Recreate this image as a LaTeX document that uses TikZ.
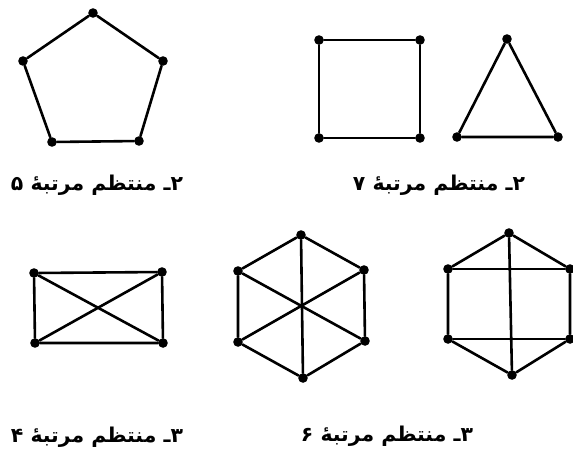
\documentclass[tikz,border=0pt]{standalone}
\usepackage{fontspec}
\newfontfamily\arabicfont[Script=Arabic]{DejaVu Sans}
\TeXXeTstate=1
\usetikzlibrary{positioning}

\begin{document}
\begin{tikzpicture}[
    x=0.5pt, y=-0.5pt,
    vtx/.style={circle, fill=black, inner sep=0pt, minimum size=4.8pt},
    edge/.style={line width=1.3pt, line cap=round},
    caption/.style={font=\arabicfont\bfseries\fontsize{10.2}{12}\selectfont, inner sep=0pt},
]
\useasboundingbox (0,0) rectangle (573,462);

% === 2-regular, order 5 (pentagon) ===
\node[vtx] (p1) at (93,13) {};
\node[vtx] (p2) at (163,61) {};
\node[vtx] (p3) at (139,141) {};
\node[vtx] (p4) at (52,142) {};
\node[vtx] (p5) at (23,61) {};
\draw[edge] (p1) -- (p2) -- (p3) -- (p4) -- (p5) -- (p1);

\node[caption] (cap5) at (97,185) {\beginR ۲ـ منتظم مرتبهٔ ۵\endR};

% === 2-regular, order 7 (square + triangle) ===
\node[vtx] (s1) at (319,40) {};
\node[vtx] (s2) at (420,40) {};
\node[vtx] (s3) at (420,138) {};
\node[vtx] (s4) at (319,138) {};
\draw[edge] (s1) -- (s2) -- (s3) -- (s4) -- (s1);

\node[vtx] (t1) at (507,39) {};
\node[vtx] (t2) at (558,137) {};
\node[vtx] (t3) at (457,137) {};
\draw[edge] (t1) -- (t2) -- (t3) -- (t1);

\node[caption] (cap7) at (439,185) {\beginR ۲ـ منتظم مرتبهٔ ۷\endR};

% === 3-regular, order 4 (rectangle with diagonals) ===
\node[vtx] (r1) at (34,273) {};
\node[vtx] (r2) at (162,272) {};
\node[vtx] (r3) at (163,343) {};
\node[vtx] (r4) at (35,343) {};
\draw[edge] (r1) -- (r2) -- (r3) -- (r4) -- (r1);
\draw[edge] (r1) -- (r3);
\draw[edge] (r2) -- (r4);

\node[caption] (cap4) at (97,437) {\beginR ۳ـ منتظم مرتبهٔ ۴\endR};

% === 3-regular, order 6 (hexagon with long diagonals) ===
\node[vtx] (h1) at (301,235) {};
\node[vtx] (h2) at (364,270) {};
\node[vtx] (h3) at (365,341) {};
\node[vtx] (h4) at (303,378) {};
\node[vtx] (h5) at (238,342) {};
\node[vtx] (h6) at (238,271) {};
\draw[edge] (h1) -- (h2) -- (h3) -- (h4) -- (h5) -- (h6) -- (h1);
\draw[edge] (h1) -- (h4);
\draw[edge] (h2) -- (h5);
\draw[edge] (h3) -- (h6);

% === 3-regular, order 6 (second drawing) ===
\node[vtx] (g1) at (509,233) {};
\node[vtx] (g2) at (570,269) {};
\node[vtx] (g3) at (570,339) {};
\node[vtx] (g4) at (512,375) {};
\node[vtx] (g5) at (448,339) {};
\node[vtx] (g6) at (448,269) {};
\draw[edge] (g1) -- (g2) -- (g3) -- (g4) -- (g5) -- (g6) -- (g1);
\draw[edge] (g6) -- (g2);
\draw[edge] (g5) -- (g3);
\draw[edge] (g1) -- (g4);

\node[caption] (cap6) at (387,436) {\beginR ۳ـ منتظم مرتبهٔ ۶\endR};

\end{tikzpicture}
\end{document}
